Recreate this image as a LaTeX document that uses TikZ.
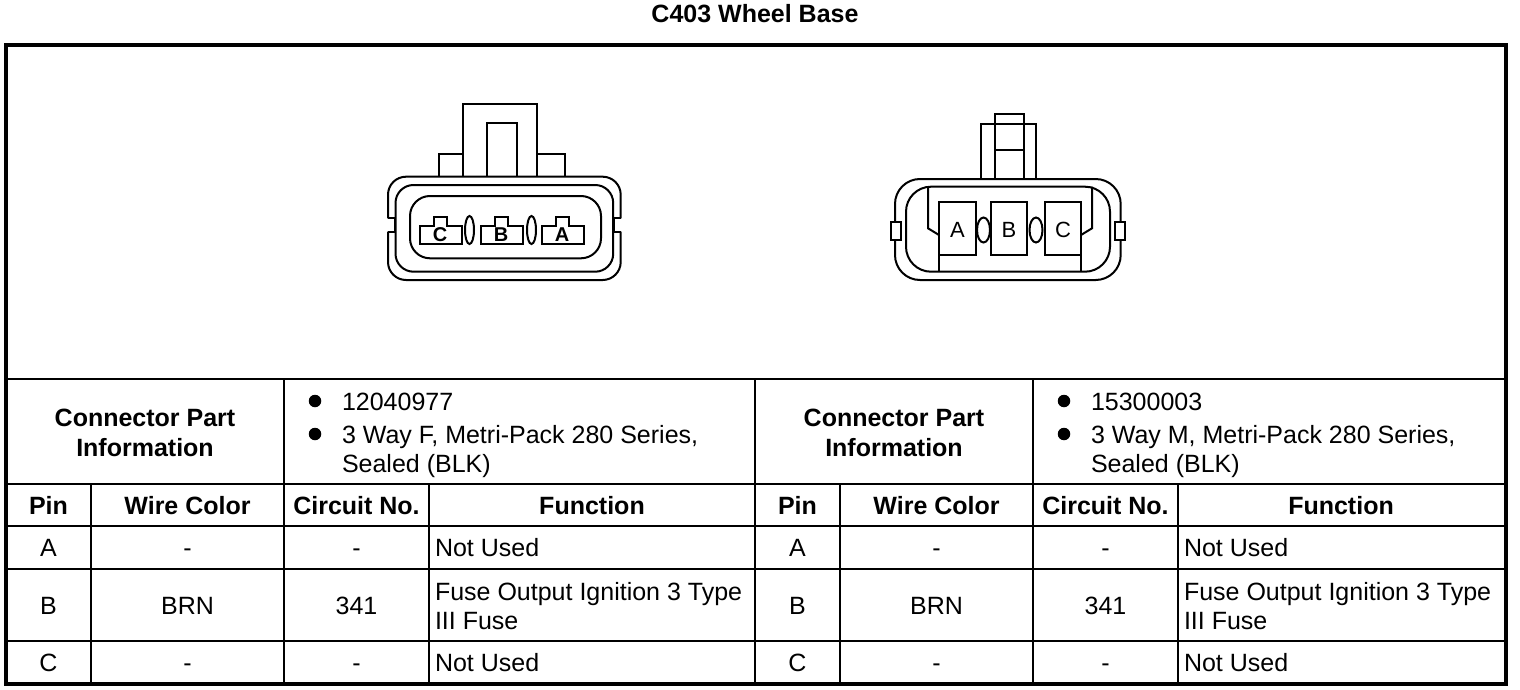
\documentclass[tikz,border=0pt]{standalone}
\usepackage{fontspec}
\setmainfont{Liberation Sans}
\begin{document}
\begin{tikzpicture}[x=1pt, y=-1pt, line width=2pt,
    txt/.style={font=\fontsize{25}{29}\selectfont, inner sep=0pt, text height=18pt, text depth=0pt},
    bold/.style={txt, font=\fontsize{25}{29}\selectfont\bfseries},
    dot/.style={circle, fill, inner sep=0pt, minimum size=12.5pt},
    pinf/.style={font=\fontsize{20}{20}\selectfont\bfseries, inner sep=0pt},
    pinm/.style={font=\fontsize{22}{22}\selectfont, inner sep=0pt}]
  \useasboundingbox (0,0) rectangle (1520,690);
  \node[bold] (title) at (755,14) {C403 Wheel Base};
  % frame and table
  \draw[line width=3.5pt] (6,45) rectangle (1506,684);
  \draw (6,379) -- (1506,379);
  \foreach \yy in {484,526,569,641} \draw (6,\yy) -- (1506,\yy);
  \foreach \xx in {284,755,1033} \draw (\xx,379) -- (\xx,684);
  \foreach \xx in {91,429,840,1178} \draw (\xx,484) -- (\xx,684);
  \foreach \s/\dx/\pn/\w in {L/0/12040977/F, R/749/15300003/M}{
    \node[bold] (cpa\s) at (145+\dx,417) {Connector Part};
    \node[bold] (cpb\s) at (145+\dx,447) {Information};
    \node[dot] (dota\s) at (315+\dx,401) {};
    \node[dot] (dotb\s) at (315+\dx,434) {};
    \node[txt, anchor=west] (pn\s) at (341+\dx,401) {\pn};
    \node[txt, anchor=west] (way\s) at (341+\dx,434) {3 Way \w, Metri-Pack 280 Series,};
    \node[txt, anchor=west] (seal\s) at (341+\dx,463) {Sealed (BLK)};
    \node[bold] (hpin\s) at (48.5+\dx,505) {Pin};
    \node[bold] (hwire\s) at (187.5+\dx,505) {Wire Color};
    \node[bold] (hcirc\s) at (356.5+\dx,505) {Circuit No.};
    \node[bold] (hfunc\s) at (592+\dx,505) {Function};
    \node[txt] (pa\s) at (48.5+\dx,547.5) {A};
    \node[txt] (wa\s) at (187.5+\dx,547.5) {-};
    \node[txt] (ca\s) at (356.5+\dx,547.5) {-};
    \node[txt, anchor=west] (fa\s) at (434+\dx,547.5) {Not Used};
    \node[txt] (pb\s) at (48.5+\dx,605) {B};
    \node[txt] (wb\s) at (187.5+\dx,605) {BRN};
    \node[txt] (cb\s) at (356.5+\dx,605) {341};
    \node[txt, anchor=west] (fb\s) at (434+\dx,591) {Fuse Output Ignition 3 Type};
    \node[txt, anchor=west] (fbb\s) at (434+\dx,620) {III Fuse};
    \node[txt] (pc\s) at (48.5+\dx,662.5) {C};
    \node[txt] (wc\s) at (187.5+\dx,662.5) {-};
    \node[txt] (cc\s) at (356.5+\dx,662.5) {-};
    \node[txt, anchor=west] (fc\s) at (434+\dx,662.5) {Not Used};
  }
  % female connector
  \draw (462.7,176.7) -- (462.7,104.3) -- (537.3,104.3) -- (537.3,176.7);
  \draw (487.3,176.7) -- (487.3,123.3) -- (516.7,123.3) -- (516.7,176.7);
  \draw (439.3,176.7) -- (439.3,154.3) -- (462.7,154.3);
  \draw (537.3,154.3) -- (565,154.3) -- (565,176.7);
  \draw[rounded corners=18] (620.7,218.3) -- (620.7,176.7) -- (388,176.7) -- (388,218.3)
    (388,231.7) -- (388,280) -- (620.7,280) -- (620.7,231.7);
  \draw (388,218.3) -- (395,218.3) -- (395,231.7) -- (388,231.7);
  \draw (620.7,218.3) -- (613.7,218.3) -- (613.7,231.7) -- (620.7,231.7);
  \draw[rounded corners=18] (395.5,185) rectangle (613.2,271.7);
  \draw[rounded corners=20] (410,196) rectangle (601,258.3);
  \foreach \tx/\l in {420/C, 481/B, 542/A}{
    \draw (\tx,244) -- (\tx,225.5) -- (\tx+14,225.5) -- (\tx+14,216.5) -- (\tx+27,216.5)
      -- (\tx+27,225.5) -- (\tx+42,225.5) -- (\tx+42,244) -- cycle;
    \node[pinf] (f\l) at (\tx+20,235) {\l};
  }
  \foreach \ex in {469.5,531.5} \draw (\ex,230) ellipse [x radius=4.5, y radius=14];
  % male connector
  \draw (980.7,179) -- (980.7,124.3) -- (1036,124.3) -- (1036,179);
  \draw (995,179) -- (995,114.3) -- (1024,114.3) -- (1024,179);
  \draw (995,150) -- (1024,150);
  \draw[rounded corners=25] (895,179) rectangle (1120.7,280);
  \draw[rounded corners=25] (906,186.7) rectangle (1110,271.7);
  \filldraw[fill=white] (891,221.7) rectangle (901,240);
  \filldraw[fill=white] (1114.7,221.7) rectangle (1124.7,240);
  \draw (928,186.7) -- (928,228.3) -- (939,235);
  \draw (1092,186.7) -- (1092,228.3) -- (1081,235);
  \draw (939,255) -- (939,271.7) (1081,255) -- (1081,271.7);
  \foreach \ax/\bx/\l in {939/976/A, 991/1027/B, 1045/1081/C}{
    \draw (\ax,202.3) rectangle (\bx,255);
    \node[pinm] (m\l) at ({(\ax+\bx)/2},230) {\l};
  }
  \foreach \ex in {983.5,1036} \draw (\ex,230) ellipse [x radius=6.5, y radius=12.5];
\end{tikzpicture}
\end{document}
